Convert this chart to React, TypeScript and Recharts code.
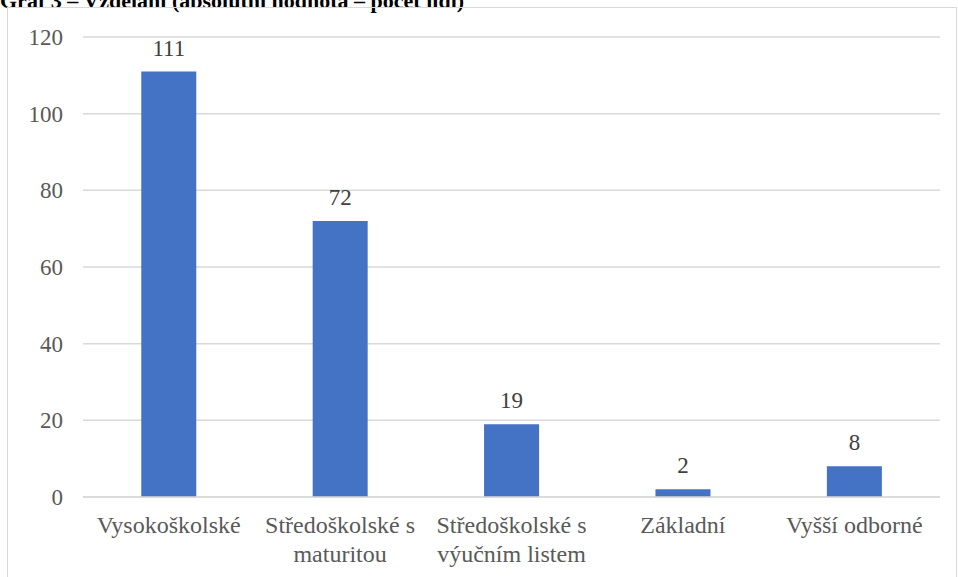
import { BarChart, Bar, XAxis, YAxis, CartesianGrid, LabelList } from "recharts";

const categories = [
  "Vysokoškolské",
  "Středoškolské s maturitou",
  "Středoškolské s výučním listem",
  "Základní",
  "Vyšší odborné",
];
const counts = [111, 72, 19, 2, 8];
const yTicks = [0, 20, 40, 60, 80, 100, 120];
const title = "Graf 3 – Vzdělání (absolutní hodnota – počet lidí)";

const data = categories.map((name, i) => ({ name, count: counts[i] }));

const font = "Liberation Serif, Times New Roman, serif";

// greedy word wrap, roughly what the original chart does
const wrap = (s: string, max: number) => {
  const lines: string[] = [];
  let cur = "";
  s.split(" ").forEach((w) => {
    const next = cur ? cur + " " + w : w;
    if (next.length > max && cur) {
      lines.push(cur);
      cur = w;
    } else {
      cur = next;
    }
  });
  if (cur) lines.push(cur);
  return lines;
};

const CategoryTick = (props: any) => {
  const { x, y, payload } = props;
  const lines = wrap(payload.value, 16);
  return (
    <text
      x={x}
      y={y}
      textAnchor="middle"
      fill="#595959"
      fontSize={24}
      fontFamily={font}
      style={{ fontFamily: font }}
    >
      {lines.map((l, i) => (
        <tspan key={i} x={x} dy={i === 0 ? 20 : 29}>
          {l}
        </tspan>
      ))}
    </text>
  );
};

const App = () => {
  return (
    <div style={{ position: "fixed", left: 0, top: 0, width: 958, height: 577, overflow: "hidden", background: "#fff" }}>
      <div
        style={{
          position: "absolute",
          left: 0,
          top: -12,
          fontFamily: font,
          fontWeight: "bold",
          fontSize: 22,
          whiteSpace: "nowrap",
          color: "#000",
        }}
      >
        {title}
      </div>
      <div
        style={{
          position: "absolute",
          left: 7,
          top: 7,
          width: 950,
          height: 600,
          border: "1px solid #d9d9d9",
          boxSizing: "border-box",
        }}
      />
      <div style={{ position: "absolute", left: 0, top: 0 }}>
        <BarChart
          width={958}
          height={577}
          data={data}
          margin={{ top: 37, right: 18, bottom: 50, left: 23 }}
          barCategoryGap="34%"
        >
          <CartesianGrid vertical={false} stroke="#d9d9d9" strokeWidth={1.5} />
          <XAxis
            dataKey="name"
            axisLine={{ stroke: "#d9d9d9", strokeWidth: 1.5 }}
            tickLine={false}
            tick={<CategoryTick />}
            tickMargin={10}
            interval={0}
          />
          <YAxis
            width={60}
            domain={[0, 120]}
            ticks={yTicks}
            axisLine={false}
            tickLine={false}
            tickSize={0}
            tickMargin={20}
            tick={{ fill: "#595959", fontSize: 23, fontFamily: font, style: { fontFamily: font } }}
          />
          <Bar dataKey="count" fill="#4472c4" isAnimationActive={false}>
            <LabelList
              dataKey="count"
              position="top"
              offset={16}
              fill="#404040"
              fontSize={23}
              fontFamily={font}
              style={{ fontFamily: font }}
            />
          </Bar>
        </BarChart>
      </div>
    </div>
  );
};

export default App;
